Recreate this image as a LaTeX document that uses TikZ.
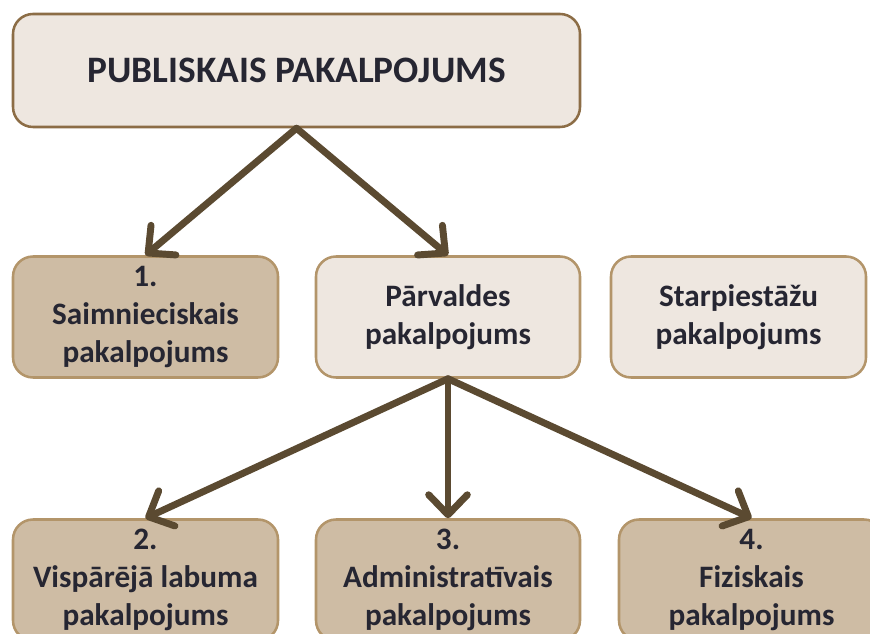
\documentclass[tikz,border=0pt]{standalone}
\usepackage{fontspec}
\setmainfont{Carlito}
\usetikzlibrary{arrows.meta}
\definecolor{boxlight}{HTML}{EEE7E0}
\definecolor{boxdark}{HTML}{CEBCA4}
\definecolor{boxline}{HTML}{B3956A}
\definecolor{topline}{HTML}{8C6D46}
\definecolor{arrowcol}{HTML}{5B4A31}
\definecolor{txtcol}{HTML}{262632}
\tikzset{
  kaste/.style={draw=boxline, line width=1.9pt, rounded corners=15pt, text=txtcol,
    font=\fontsize{23.4}{28.5}\selectfont\bfseries, align=center, inner sep=0pt,
    minimum height=90.75pt},
  gaisa/.style={kaste, fill=boxlight},
  tumsa/.style={kaste, fill=boxdark},
  bulta/.style={draw=arrowcol, line width=5.2pt, line cap=round}
}
\begin{document}
\begin{tikzpicture}[x=0.75pt, y=-0.75pt, >={Straight Barb[length=15pt, width=29pt, line cap=round, line join=round]}]
\clip (0,0) rectangle (870,634);
\useasboundingbox (0,0) rectangle (870,634);

\node(Publ)[gaisa, draw=topline, minimum width=425.25pt, minimum height=84.75pt,
  font=\fontsize{28}{32}\selectfont\bfseries] at (296.5,70.5) {PUBLISKAIS PAKALPOJUMS};

\node(Saimn)[tumsa, minimum width=198.75pt] at (145.5,317) {1.\\Saimnieciskais\\pakalpojums};
\node(Parv)[gaisa, minimum width=198pt] at (448,317) {Pārvaldes\\pakalpojums};
\node(Starp)[gaisa, minimum width=191.25pt] at (738.5,317) {Starpiestāžu\\pakalpojums};

\node(Visp)[tumsa, minimum width=198.75pt] at (145.5,580) {2.\\Vispārējā labuma\\pakalpojums};
\node(Admin)[tumsa, minimum width=198pt] at (448,580) {3.\\Administratīvais\\pakalpojums};
\node(Fiz)[tumsa, minimum width=198.75pt] at (751.5,580) {4.\\Fiziskais\\pakalpojums};

\draw[bulta] (Publ.south) edge[->] (Saimn.north);
\draw[bulta] (Publ.south) edge[->] (Parv.north);

\draw[bulta] (Parv.south) edge[->] (Visp.north);
\draw[bulta] (Parv.south) edge[->] (Admin.north);
\draw[bulta] (Parv.south) edge[->] (Fiz.north);
\end{tikzpicture}
\end{document}
